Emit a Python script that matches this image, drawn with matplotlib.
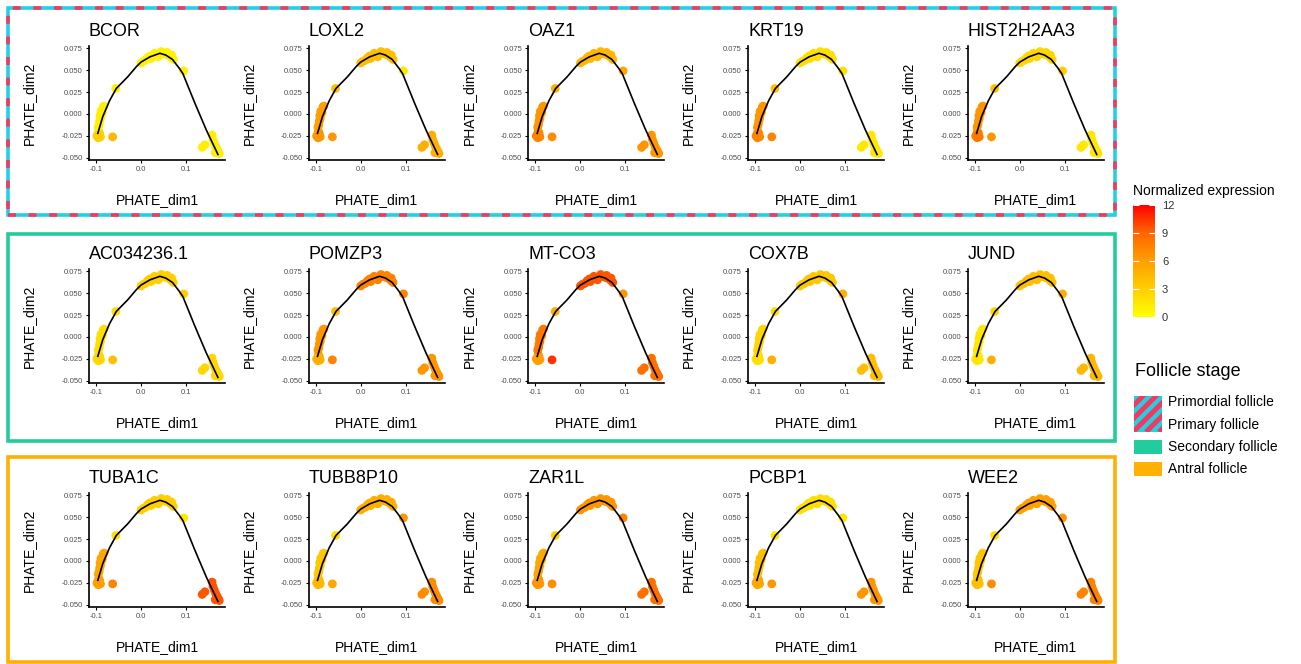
import numpy as np
import matplotlib
matplotlib.use('Agg')
import matplotlib.pyplot as plt
from matplotlib.colors import LinearSegmentedColormap, Normalize
from matplotlib.patches import Rectangle
from matplotlib.cm import ScalarMappable

plt.rcParams['font.family'] = ['Liberation Sans', 'DejaVu Sans']

W, H = 1301, 664

# cell coordinates on the PHATE embedding (same for every gene)
pt_x = [-0.095, -0.093, -0.096, -0.092, -0.094, -0.098, -0.090,
        -0.095, -0.093, -0.092, -0.090, -0.091, -0.088, -0.089, -0.086, -0.084, -0.082,
        -0.063,
        -0.056,
        0.000, 0.010, 0.015, 0.022, 0.028, 0.035, 0.042, 0.046, 0.050, 0.055,
        0.060, 0.065, 0.068, 0.072, 0.038, 0.030, 0.005, 0.020, 0.045, 0.058, 0.068,
        0.095,
        0.136, 0.142, 0.158, 0.160, 0.163, 0.166, 0.169, 0.172, 0.174, 0.165]
pt_y = [-0.027, -0.026, -0.024, -0.022, -0.020, -0.025, -0.026,
        -0.015, -0.012, -0.008, -0.005, -0.002, 0.000, 0.003, 0.002, 0.008, 0.009,
        -0.026,
        0.029,
        0.058, 0.061, 0.064, 0.063, 0.066, 0.067, 0.068, 0.070, 0.069, 0.068,
        0.067, 0.066, 0.064, 0.062, 0.065, 0.069, 0.060, 0.066, 0.071, 0.070, 0.067,
        0.049,
        -0.038, -0.035, -0.024, -0.029, -0.033, -0.037, -0.040, -0.043, -0.045, -0.044]
pt_group = (['Lb'] * 7 + ['Lu'] * 10 + ['O'] + ['M'] + ['T'] * 21 + ['R'] + ['B'] * 10)
groups = ['Lb', 'Lu', 'O', 'M', 'T', 'R', 'B']

# trajectory curve
curve_x = [-0.096, -0.085, -0.070, -0.055, -0.030, -0.010, 0.000, 0.020, 0.042,
           0.055, 0.070, 0.085, 0.093, 0.120, 0.145, 0.171]
curve_y = [-0.022, -0.003, 0.015, 0.029, 0.042, 0.054, 0.059, 0.065, 0.069,
           0.067, 0.062, 0.052, 0.046, 0.012, -0.018, -0.046]

genes = [['BCOR', 'LOXL2', 'OAZ1', 'KRT19', 'HIST2H2AA3'],
         ['AC034236.1', 'POMZP3', 'MT-CO3', 'COX7B', 'JUND'],
         ['TUBA1C', 'TUBB8P10', 'ZAR1L', 'PCBP1', 'WEE2']]

# normalized expression per group: Lb, Lu, O, M, T, R, B
expr = {
    'BCOR':       [3.0, 1.0, 4.5, 1.0, 0.8, 1.0, 1.0],
    'LOXL2':      [6.5, 6.0, 6.5, 4.0, 4.0, 1.5, 5.0],
    'OAZ1':       [7.5, 6.5, 7.0, 5.0, 4.5, 5.5, 6.5],
    'KRT19':      [7.5, 6.5, 7.5, 4.0, 2.0, 2.0, 1.5],
    'HIST2H2AA3': [8.0, 6.5, 6.5, 4.0, 2.5, 3.0, 1.5],
    'AC034236.1': [2.5, 2.0, 4.0, 2.0, 3.0, 3.0, 2.5],
    'POMZP3':     [5.0, 6.5, 7.5, 4.0, 7.5, 7.5, 6.5],
    'MT-CO3':     [6.0, 8.0, 10.5, 5.0, 9.5, 6.5, 8.5],
    'COX7B':      [2.0, 2.5, 5.0, 2.0, 3.5, 5.0, 4.0],
    'JUND':       [1.5, 1.5, 5.0, 2.5, 4.0, 5.0, 4.5],
    'TUBA1C':     [6.0, 5.5, 7.5, 2.0, 3.0, 1.5, 9.5],
    'TUBB8P10':   [4.5, 3.5, 5.5, 2.0, 5.0, 6.5, 7.0],
    'ZAR1L':      [6.5, 5.5, 7.0, 3.0, 6.5, 7.5, 8.5],
    'PCBP1':      [5.5, 4.0, 6.5, 1.5, 2.0, 1.5, 6.5],
    'WEE2':       [4.0, 3.5, 7.0, 2.0, 6.0, 6.5, 7.5],
}

stages = ['Primordial follicle', 'Primary follicle', 'Secondary follicle', 'Antral follicle']
cyan, red, teal, orange = '#22d0e6', '#f23a5e', '#22cc9e', '#ffb000'

cmap = LinearSegmentedColormap.from_list(
    'expr', [(0, '#ffff00'), (0.25, '#ffcf00'), (0.5, '#ff9f00'),
             (0.75, '#ff6600'), (1, '#ff0000')])
norm = Normalize(0, 12)


def px_rect(x0, y0, x1, y1):
    # pixel box (top-left origin) -> figure fraction rect
    return [x0 / W, 1 - y1 / H, (x1 - x0) / W, (y1 - y0) / H]


fig = plt.figure(figsize=(W / 100, H / 100), dpi=100)

row_off = [0, 223, 447]
col_step = 219.7
for r, row in enumerate(genes):
    for c, g in enumerate(row):
        x0 = 89 + c * col_step
        y0 = 46 + row_off[r]
        ax = fig.add_axes(px_rect(x0, y0, x0 + 136, y0 + 114))
        vals = [expr[g][groups.index(k)] for k in pt_group]
        ax.scatter(pt_x, pt_y, c=vals, cmap=cmap, norm=norm, s=40,
                   linewidths=0, zorder=2)
        ax.plot(curve_x, curve_y, color='black', lw=1.2, zorder=3)
        ax.set_xlim(-0.1156, 0.1867)
        ax.set_ylim(-0.0523, 0.0773)
        ax.set_xticks([-0.1, 0.0, 0.1])
        ax.set_xticklabels(['-0.1', '0.0', '0.1'])
        ax.set_yticks([-0.05, -0.025, 0, 0.025, 0.05, 0.075])
        ax.set_yticklabels(['-0.050', '-0.025', '0.000', '0.025', '0.050', '0.075'])
        for s in ['top', 'right']:
            ax.spines[s].set_visible(False)
        for s in ['left', 'bottom']:
            ax.spines[s].set_linewidth(1.2)
        ax.tick_params(labelsize=5.5, labelcolor='#4d4d4d', length=2.5,
                       width=0.8, pad=2)
        ax.set_title(g, loc='left', fontsize=13, pad=7)
        ax.set_xlabel('PHATE_dim1', fontsize=10)
        ax.set_ylabel('PHATE_dim2', fontsize=10)
        ax.xaxis.label.set_va('center')
        ax.yaxis.label.set_va('center')
        ax.xaxis.set_label_coords(0.5, -40 / 114)
        ax.yaxis.set_label_coords(-60 / 136, 0.5)

# stage boxes around the rows
lw_box = 2.6
b1 = px_rect(8, 8, 1115, 215)
fig.add_artist(Rectangle(b1[:2], b1[2], b1[3], transform=fig.transFigure,
                         fill=False, edgecolor=cyan, lw=lw_box))
fig.add_artist(Rectangle(b1[:2], b1[2], b1[3], transform=fig.transFigure,
                         fill=False, edgecolor=red, lw=lw_box,
                         linestyle=(0, (2.2, 3.5))))
b2 = px_rect(8, 234, 1115, 441)
fig.add_artist(Rectangle(b2[:2], b2[2], b2[3], transform=fig.transFigure,
                         fill=False, edgecolor=teal, lw=lw_box))
b3 = px_rect(8, 457, 1115, 662)
fig.add_artist(Rectangle(b3[:2], b3[2], b3[3], transform=fig.transFigure,
                         fill=False, edgecolor=orange, lw=lw_box))

# colour bar legend
fig.text(1133 / W, 1 - 191 / H, 'Normalized expression', fontsize=10,
         va='center', ha='left')
cax = fig.add_axes(px_rect(1133, 205, 1155, 317))
cb = fig.colorbar(ScalarMappable(norm=norm, cmap=cmap), cax=cax)
cb.outline.set_visible(False)
cb.set_ticks([0, 3, 6, 9, 12])
cax.tick_params(left=True, right=True, direction='in', length=4, width=0.8,
                color='white', labelsize=8, labelcolor='#333333', pad=5)

# follicle stage legend
fig.text(1135 / W, 1 - 372 / H, 'Follicle stage', fontsize=13, va='center', ha='left')
hax = fig.add_axes(px_rect(1134, 396, 1162, 432))
hax.set_facecolor(cyan)
for k in range(-40, 40, 13):
    hax.plot([k, k + 40], [0, 40], color=red, lw=3.6, solid_capstyle='butt')
hax.set_xlim(0, 28)
hax.set_ylim(0, 36)
hax.set_xticks([])
hax.set_yticks([])
for s in hax.spines.values():
    s.set_visible(False)
sw = px_rect(1134, 440, 1162, 454)
fig.add_artist(Rectangle(sw[:2], sw[2], sw[3], transform=fig.transFigure,
                         facecolor=teal, lw=0))
sw = px_rect(1134, 462, 1162, 476)
fig.add_artist(Rectangle(sw[:2], sw[2], sw[3], transform=fig.transFigure,
                         facecolor=orange, lw=0))
for lab, yy in zip(stages, [402, 425, 447, 469]):
    fig.text(1168 / W, 1 - yy / H, lab, fontsize=10, va='center', ha='left')

fig.savefig('out.png', dpi=100)
